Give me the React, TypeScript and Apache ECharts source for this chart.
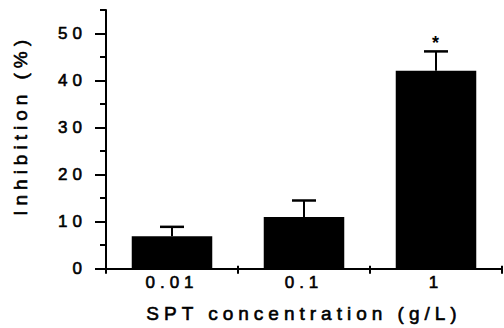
import React, { useEffect, useRef } from "react";
import * as echarts from "echarts";

const categories = ["0.01", "0.1", "1"];
const means = [6.9, 11.0, 42.1];
const errors = [2.0, 3.5, 4.1];
const marks = ["", "", "*"];
const yMajorTicks = [0, 10, 20, 30, 40, 50];
const yMinorTicks = [5, 15, 25, 35, 45, 55];

const FONT = "'Liberation Sans', Arial, Helvetica, sans-serif";
const heavy = { textBorderColor: "#000", textBorderWidth: 0.6 };

export default function App() {
  const ref = useRef<HTMLDivElement>(null);
  useEffect(() => {
    if (!ref.current) return;
    const chart = echarts.init(ref.current, undefined, { renderer: "svg" });
    const errData = means.map((m, i) => [i, m, m + errors[i], marks[i]]);
    chart.setOption({
      animation: false,
      backgroundColor: "#ffffff",
      textStyle: { fontFamily: FONT, color: "#000" },
      grid: { left: 106, right: 2, top: 10, bottom: 59, containLabel: false },
      xAxis: [
        {
          type: "category",
          data: categories,
          position: "bottom",
          boundaryGap: true,
          name: "SPT concentration (g/L)",
          nameLocation: "middle",
          nameGap: 35,
          nameTextStyle: { fontSize: 19, color: "#000", fontFamily: FONT, ...heavy },
          axisLine: { show: true, lineStyle: { color: "#000", width: 2 } },
          axisTick: { show: true, length: 5, alignWithLabel: false, lineStyle: { color: "#000", width: 2 } },
          axisLabel: { fontSize: 17, color: "#000", margin: 5, fontFamily: FONT, ...heavy },
          splitLine: { show: false },
        },
        {
          type: "category",
          data: categories,
          position: "bottom",
          boundaryGap: true,
          axisLine: { show: false },
          axisTick: { show: true, inside: true, length: 3, lineStyle: { color: "#000", width: 2 } },
          axisLabel: { show: false },
          splitLine: { show: false },
        },
      ],
      yAxis: [
        {
          type: "value",
          min: 0,
          max: 55,
          interval: 5,
          name: "Inhibition (%)",
          nameLocation: "middle",
          nameGap: 76,
          nameTextStyle: { fontSize: 19, color: "#000", fontFamily: FONT, padding: [0, 0, 0, 28], ...heavy },
          axisLine: { show: true, lineStyle: { color: "#000", width: 2 } },
          axisTick: { show: true, length: 11, customValues: yMajorTicks, lineStyle: { color: "#000", width: 2 } },
          axisLabel: { fontSize: 17, color: "#000", margin: 19, customValues: yMajorTicks, fontFamily: FONT, ...heavy },
          splitLine: { show: false },
        },
        {
          type: "value",
          min: 0,
          max: 55,
          interval: 5,
          position: "left",
          axisLine: { show: false },
          axisTick: { show: true, length: 6, customValues: yMinorTicks, lineStyle: { color: "#000", width: 2 } },
          axisLabel: { show: false },
          splitLine: { show: false },
        },
      ],
      series: [
        {
          type: "bar",
          data: means,
          barWidth: "61%",
          itemStyle: { color: "#000" },
          z: 2,
        },
        {
          type: "custom",
          data: errData,
          z: 3,
          renderItem: (params: any, api: any) => {
            const i = api.value(0);
            const base = api.coord([i, api.value(1)]);
            const top = api.coord([i, api.value(2)]);
            const mark = marks[params.dataIndex];
            const halfCap = 12;
            const children: any[] = [
              {
                type: "line",
                shape: { x1: base[0], y1: base[1], x2: top[0], y2: top[1] },
                style: { stroke: "#000", lineWidth: 2 },
              },
              {
                type: "line",
                shape: { x1: top[0] - halfCap, y1: top[1], x2: top[0] + halfCap, y2: top[1] },
                style: { stroke: "#000", lineWidth: 2.5 },
              },
            ];
            if (mark) {
              children.push({
                type: "text",
                x: top[0] + 2,
                y: top[1] - 8,
                style: {
                  text: mark,
                  fontSize: 18,
                  fontWeight: "bold",
                  fontFamily: FONT,
                  fill: "#000",
                  align: "center",
                  verticalAlign: "middle",
                },
              });
            }
            return { type: "group", children };
          },
        },
      ],
    });
    return () => chart.dispose();
  }, []);
  return (
    <div
      ref={ref}
      style={{ position: "fixed", left: 0, top: 0, width: 504, height: 328, letterSpacing: "5px" }}
    />
  );
}
